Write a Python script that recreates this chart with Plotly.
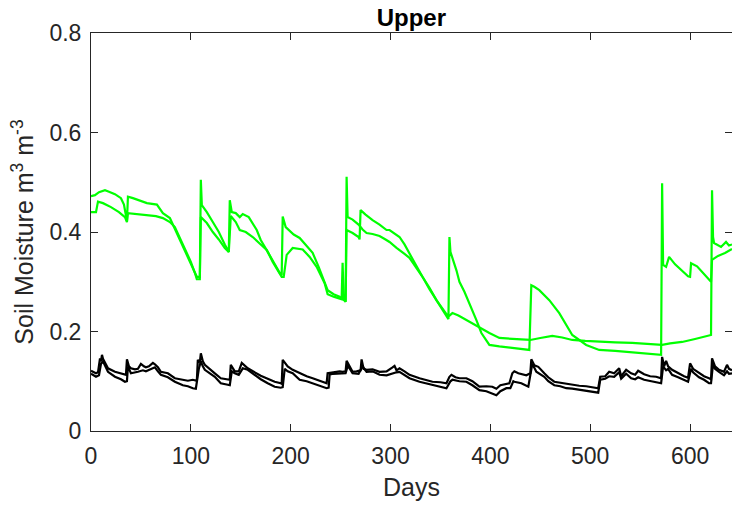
import plotly.graph_objects as go

# ---- Green series A ----
green_a_days = [0, 4, 8, 14, 18, 24, 30, 33, 36, 37, 42, 50, 56, 66, 72, 79, 86, 92, 99, 104, 106, 109,
                110, 111, 116, 122, 128, 134, 138, 139, 141, 145, 149, 152, 158, 166, 170, 177, 183, 189, 191,
                192, 195, 203, 209, 215, 222, 228, 232, 237, 243, 249, 254, 255,
                256, 257, 262, 268, 272, 276, 282, 289, 295, 299, 306, 309, 314, 319, 325, 332, 339, 346, 352, 356, 358,
                359, 360, 366, 369, 374, 379, 386, 391, 399, 409, 420, 439,
                441, 444, 449, 459, 469, 482, 496, 509, 525, 542, 560, 571,
                572, 573, 576, 579, 585, 591, 598, 600, 601, 607, 614, 621, 622, 628, 635, 642]
green_a = [0.472, 0.474, 0.480, 0.484, 0.481, 0.476, 0.468, 0.455, 0.422, 0.471, 0.468, 0.462, 0.458, 0.455, 0.438, 0.428, 0.398, 0.37, 0.34, 0.322, 0.31, 0.31,
           0.505, 0.454, 0.44, 0.42, 0.40, 0.375, 0.36, 0.464, 0.44, 0.438, 0.43, 0.436, 0.43, 0.404, 0.384, 0.36, 0.338, 0.318, 0.313,
           0.431, 0.41, 0.395, 0.388, 0.375, 0.358, 0.33, 0.31, 0.283, 0.275, 0.27, 0.262, 0.26,
           0.511, 0.43, 0.425, 0.415, 0.405, 0.398, 0.396, 0.392, 0.385, 0.38, 0.368, 0.364, 0.356, 0.348, 0.33, 0.31, 0.285, 0.263, 0.242, 0.232, 0.225,
           0.39, 0.36, 0.323, 0.30, 0.28, 0.257, 0.223, 0.197, 0.173, 0.170, 0.167, 0.163,
           0.293, 0.29, 0.283, 0.263, 0.237, 0.193, 0.173, 0.163, 0.161, 0.158, 0.155, 0.153,
           0.498, 0.334, 0.33, 0.35, 0.335, 0.323, 0.311, 0.31, 0.337, 0.331, 0.315, 0.30, 0.344, 0.352, 0.358, 0.366]

# ---- Green series B ----
green_b_days = [0, 5, 7, 12, 20, 28, 34, 36, 37, 45, 55, 65, 72, 79, 84, 90, 96, 100, 104, 106, 109,
                110, 116, 122, 128, 134, 138, 140, 145, 149, 155, 162, 170, 176, 182, 188, 191, 193,
                196, 202, 208, 212, 219, 226, 234, 237, 243, 249, 251, 252, 253, 255,
                256, 262, 268, 269, 270, 275, 282, 289, 296, 299, 303, 309, 314, 319, 325, 332, 339, 346, 352, 356, 359,
                362, 368, 376, 386, 399, 409, 420, 440, 450, 462, 472, 482, 495, 509, 525, 542, 560, 572,
                580, 592, 605, 615, 621, 622, 623, 624, 631, 636, 639, 642]
green_b = [0.44, 0.44, 0.461, 0.458, 0.45, 0.44, 0.43, 0.42, 0.438, 0.436, 0.435, 0.432, 0.428, 0.42, 0.41, 0.385, 0.36, 0.34, 0.318, 0.305, 0.305,
           0.43, 0.418, 0.40, 0.385, 0.368, 0.36, 0.432, 0.42, 0.404, 0.40, 0.39, 0.375, 0.364, 0.34, 0.32, 0.31, 0.31,
           0.354, 0.368, 0.367, 0.365, 0.35, 0.33, 0.297, 0.275, 0.27, 0.267, 0.265, 0.338, 0.265, 0.26,
           0.404, 0.398, 0.39, 0.385, 0.444, 0.435, 0.424, 0.415, 0.404, 0.404, 0.398, 0.39, 0.375, 0.358, 0.335, 0.31, 0.288, 0.263, 0.245, 0.235, 0.232,
           0.237, 0.232, 0.223, 0.21, 0.197, 0.187, 0.186, 0.183, 0.187, 0.191, 0.188, 0.183, 0.181, 0.179, 0.178, 0.177, 0.175, 0.173,
           0.176, 0.179, 0.185, 0.19, 0.193, 0.484, 0.39, 0.378, 0.37, 0.38, 0.373, 0.375]

# ---- Black series C (upper) ----
black_c_days = [0, 3, 5, 7, 9, 10, 11, 12, 14, 17, 24, 30, 34, 35, 36, 38, 40, 44, 47, 50, 53, 55, 58, 62, 64, 67, 70, 77, 84, 92, 97, 102, 106,
                107, 109, 110, 112, 114, 120, 124, 130, 137, 139, 140, 144, 148, 151, 157, 164, 170, 177, 184, 190, 191,
                192, 197, 202, 209, 216, 222, 229, 236, 237, 242, 249, 252, 255, 256, 259, 262, 266, 270, 271, 273, 276, 282, 289, 296,
                302, 304, 306, 309, 314, 319, 329, 342, 350, 356, 359, 361, 365, 369, 376, 382, 389, 396, 402, 406, 410, 416, 419,
                422, 424, 428, 431, 436, 440, 441, 444, 448, 454, 458, 464, 470, 476, 482, 489, 496, 503, 508,
                510, 515, 519, 524, 529, 531, 536, 541, 545, 548, 554, 560, 566, 571, 572, 574, 576, 578, 582, 588, 594, 598,
                600, 603, 609, 614, 619, 621, 622, 625, 629, 634, 637, 639, 642]
black_c = [0.121, 0.118, 0.116, 0.118, 0.146, 0.14, 0.153, 0.145, 0.136, 0.126, 0.119, 0.116, 0.113, 0.113, 0.144, 0.13, 0.126, 0.124, 0.125, 0.135, 0.13, 0.128, 0.13, 0.137, 0.134, 0.128, 0.119, 0.116, 0.106, 0.103, 0.101, 0.103, 0.101,
           0.143, 0.138, 0.156, 0.14, 0.133, 0.122, 0.116, 0.106, 0.103, 0.103, 0.133, 0.12, 0.12, 0.137, 0.126, 0.118, 0.111, 0.105, 0.099, 0.096, 0.095,
           0.143, 0.13, 0.123, 0.116, 0.11, 0.106, 0.101, 0.096, 0.116, 0.118, 0.12, 0.119, 0.12, 0.141, 0.129, 0.119, 0.12, 0.122, 0.144, 0.125, 0.123, 0.124, 0.119, 0.12,
           0.128, 0.131, 0.122, 0.126, 0.12, 0.113, 0.106, 0.099, 0.098, 0.096, 0.109, 0.113, 0.108, 0.106, 0.106, 0.1, 0.089, 0.09, 0.089, 0.085, 0.092, 0.094, 0.096,
           0.116, 0.12, 0.116, 0.115, 0.112, 0.116, 0.144, 0.132, 0.129, 0.116, 0.108, 0.099, 0.097, 0.096, 0.094, 0.091, 0.09, 0.088, 0.086,
           0.109, 0.11, 0.119, 0.116, 0.126, 0.11, 0.123, 0.116, 0.113, 0.121, 0.114, 0.11, 0.109, 0.106, 0.149, 0.13, 0.141, 0.13, 0.123, 0.116, 0.11, 0.107,
           0.136, 0.125, 0.116, 0.11, 0.106, 0.104, 0.146, 0.13, 0.123, 0.119, 0.133, 0.125, 0.122]

# ---- Black series D (lower) ----
black_d_days = [0, 5, 8, 10, 12, 15, 17, 24, 30, 34, 36, 37, 40, 47, 52, 55, 60, 64, 67, 70, 77, 84, 92, 97, 102, 105,
                108, 110, 112, 114, 124, 130, 137, 139, 141, 144, 148, 152, 157, 164, 170, 177, 184, 190, 192,
                194, 197, 202, 209, 216, 222, 229, 236, 238, 239, 242, 249, 255, 257, 259, 262, 268, 272, 276, 282, 289, 296,
                302, 306, 309, 314, 319, 329, 342, 350, 356, 360, 362, 369, 376, 382, 389, 396, 402, 406, 410, 416, 420,
                423, 424, 431, 438, 441, 442, 446, 454, 458, 464, 470, 476, 482, 489, 496, 503, 508,
                510, 515, 519, 524, 529, 531, 536, 541, 545, 548, 554, 560, 566, 571, 573, 576, 578, 582, 588, 594, 598,
                601, 603, 609, 614, 619, 621, 623, 625, 629, 634, 637, 639, 642]
black_d = [0.115, 0.109, 0.112, 0.135, 0.14, 0.125, 0.119, 0.109, 0.104, 0.099, 0.1, 0.13, 0.116, 0.119, 0.122, 0.12, 0.125, 0.128, 0.12, 0.113, 0.108, 0.099, 0.092, 0.09, 0.086, 0.085,
           0.125, 0.14, 0.13, 0.123, 0.109, 0.096, 0.093, 0.092, 0.12, 0.116, 0.113, 0.126, 0.123, 0.112, 0.104, 0.096, 0.089, 0.087, 0.088,
           0.125, 0.12, 0.116, 0.103, 0.1, 0.096, 0.09, 0.086, 0.087, 0.113, 0.115, 0.116, 0.116, 0.13, 0.126, 0.116, 0.115, 0.13, 0.119, 0.12, 0.113, 0.112,
           0.116, 0.118, 0.119, 0.113, 0.106, 0.099, 0.092, 0.089, 0.086, 0.1, 0.103, 0.1, 0.099, 0.092, 0.082, 0.08, 0.076, 0.072, 0.08, 0.086, 0.086,
           0.1, 0.099, 0.096, 0.089, 0.12, 0.135, 0.119, 0.109, 0.1, 0.092, 0.09, 0.086, 0.085, 0.083, 0.08, 0.078, 0.077,
           0.103, 0.105, 0.11, 0.109, 0.118, 0.105, 0.115, 0.106, 0.104, 0.108, 0.103, 0.1, 0.097, 0.096, 0.13, 0.122, 0.125, 0.113, 0.108, 0.102, 0.099,
           0.125, 0.118, 0.108, 0.103, 0.096, 0.096, 0.135, 0.125, 0.119, 0.112, 0.12, 0.115, 0.116]

x_ticks = [0, 100, 200, 300, 400, 500, 600]
y_ticks = [0, 0.2, 0.4, 0.6, 0.8]
y_tick_labels = ["0", "0.2", "0.4", "0.6", "0.8"]

GREEN = "#00FF00"
BLACK = "#000000"
AX = "#262626"
FONT = "Liberation Sans, Arial, sans-serif"

fig = go.Figure()
for xs, ys, col in [(black_c_days, black_c, BLACK), (black_d_days, black_d, BLACK),
                    (green_a_days, green_a, GREEN), (green_b_days, green_b, GREEN)]:
    fig.add_trace(go.Scatter(x=xs, y=ys, mode="lines", line=dict(color=col, width=2.2),
                             showlegend=False, hoverinfo="skip"))

axis_common = dict(showline=True, linecolor=AX, linewidth=1, mirror="ticks", ticks="inside",
                   ticklen=7, tickwidth=1, tickcolor=AX, showgrid=False, zeroline=False,
                   tickfont=dict(family=FONT, size=23, color=AX))

fig.update_layout(
    width=732, height=505,
    margin=dict(l=91, r=0, t=33, b=74),
    paper_bgcolor="white", plot_bgcolor="white",
    title=dict(text="<b>Upper</b>", x=0.562, xanchor="center", y=0.965, yanchor="middle",
               font=dict(family=FONT, size=24, color=BLACK)),
    xaxis=dict(range=[0, 642], tickvals=x_ticks, ticklabelstandoff=4,
               title=dict(text="Days", font=dict(family=FONT, size=25, color=AX), standoff=10),
               **axis_common),
    yaxis=dict(range=[0, 0.8], tickvals=y_ticks, ticktext=y_tick_labels, ticklabelstandoff=4,
               title=dict(text="Soil Moisture m<sup>3</sup> m<sup>-3</sup>",
                          font=dict(family=FONT, size=25, color=AX), standoff=8),
               **axis_common),
)

fig.write_html("out.html")
